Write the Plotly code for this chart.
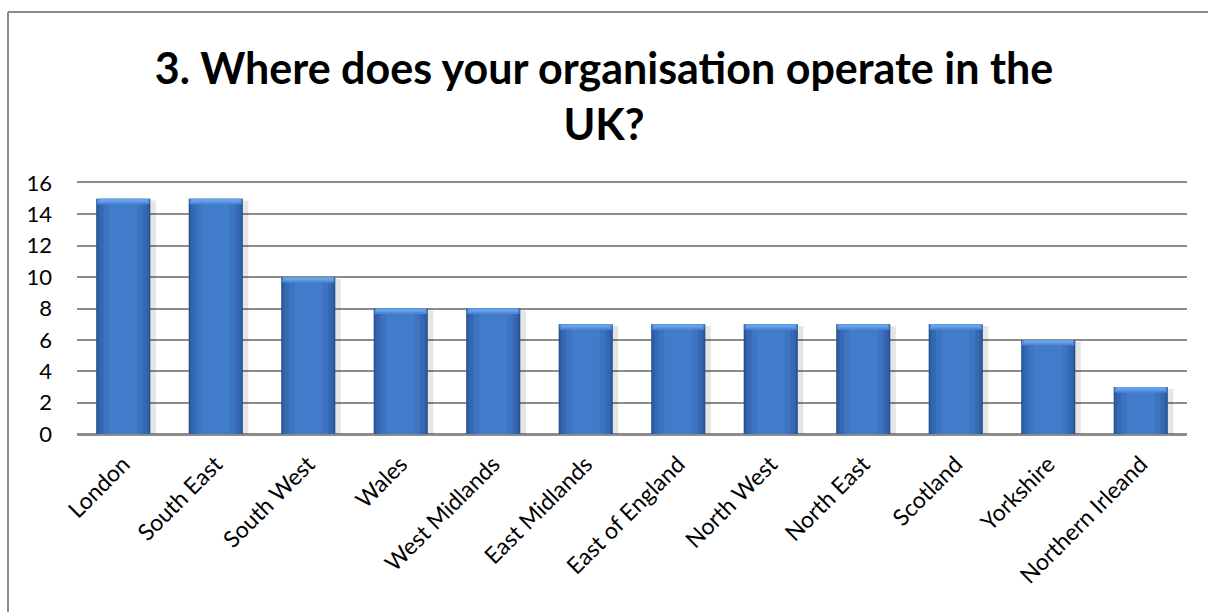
import plotly.graph_objects as go

regions = ["London", "South East", "South West", "Wales", "West Midlands",
           "East Midlands", "East of England", "North West", "North East",
           "Scotland", "Yorkshire", "Northern Irleand"]
counts = [15, 15, 10, 8, 8, 7, 7, 7, 7, 7, 6, 3]
y_ticks = [0, 2, 4, 6, 8, 10, 12, 14, 16]

title_text = "3. Where does your organisation operate in the<br>UK?"

FONT = "Lato"
BAR_W = 0.585
BEVEL = 0.35
GRID = "#8c8c8c"

fig = go.Figure()

# soft drop shadow
fig.add_trace(go.Bar(x=regions, y=counts, width=BAR_W + 0.05, offset=-BAR_W / 2 + 0.01,
                     base=-0.12, marker=dict(color="rgba(0,0,0,0.10)", line_width=0),
                     hoverinfo="skip", showlegend=False))
# dark outer edge of each bar
fig.add_trace(go.Bar(x=regions, y=counts, width=BAR_W,
                     marker=dict(color="#25508c", line_width=0), showlegend=False))
# graded body, darker at the sides and lighter toward the middle
for w, col in [(BAR_W - 0.03, "#2f62a8"), (BAR_W - 0.08, "#3669b4"),
               (BAR_W - 0.16, "#3c74c2"), (BAR_W - 0.28, "#417bca")]:
    fig.add_trace(go.Bar(x=regions, y=[c - 0.08 for c in counts], width=w,
                         marker=dict(color=col, line_width=0),
                         hoverinfo="skip", showlegend=False))
# bevelled top edge
fig.add_trace(go.Bar(x=regions, y=[BEVEL] * len(counts),
                     base=[c - BEVEL for c in counts], width=BAR_W - 0.02,
                     marker=dict(color="#4f8bd8", line_width=0),
                     hoverinfo="skip", showlegend=False))
fig.add_trace(go.Bar(x=regions, y=[BEVEL * 0.6] * len(counts),
                     base=[c - BEVEL * 0.6 for c in counts], width=BAR_W - 0.05,
                     marker=dict(color="#66a2ea", line_width=0),
                     hoverinfo="skip", showlegend=False))

# frame lines along the left and top of the chart area
fx = (8 - 77) / 1110
fy_top = (434 - 12) / 251
fy_bot = (434 - 612) / 251
fx_right = (1208 - 77) / 1110

fig.update_layout(
    barmode="overlay",
    width=1208, height=612,
    margin=dict(l=77, r=21, t=183, b=178),
    paper_bgcolor="white", plot_bgcolor="white",
    title=dict(text=title_text, x=0.5, xanchor="center", yref="container",
               y=1 - 84 / 612, yanchor="top",
               font=dict(family=FONT, size=43, color="black", weight="bold")),
    xaxis=dict(tickangle=-45, tickfont=dict(family=FONT, size=23, color="black"),
               showgrid=False, showline=True, mirror=True, linecolor=GRID, linewidth=1.5,
               ticks="", ticklen=0, ticklabelstandoff=6),
    yaxis=dict(range=[0, 16], tickvals=y_ticks, ticktext=[str(v) for v in y_ticks],
               tickfont=dict(family=FONT, size=22, color="black"),
               showgrid=True, gridcolor=GRID, gridwidth=1.5,
               zeroline=True, zerolinecolor=GRID, zerolinewidth=1.5,
               showline=False, ticks="", ticklabelstandoff=24),
    shapes=[
        dict(type="line", xref="paper", yref="paper",
             x0=fx, x1=fx, y0=fy_bot, y1=fy_top, line=dict(color=GRID, width=2)),
        dict(type="line", xref="paper", yref="paper",
             x0=fx, x1=fx_right, y0=fy_top, y1=fy_top, line=dict(color=GRID, width=2)),
    ],
)

fig.write_html("out.html")
